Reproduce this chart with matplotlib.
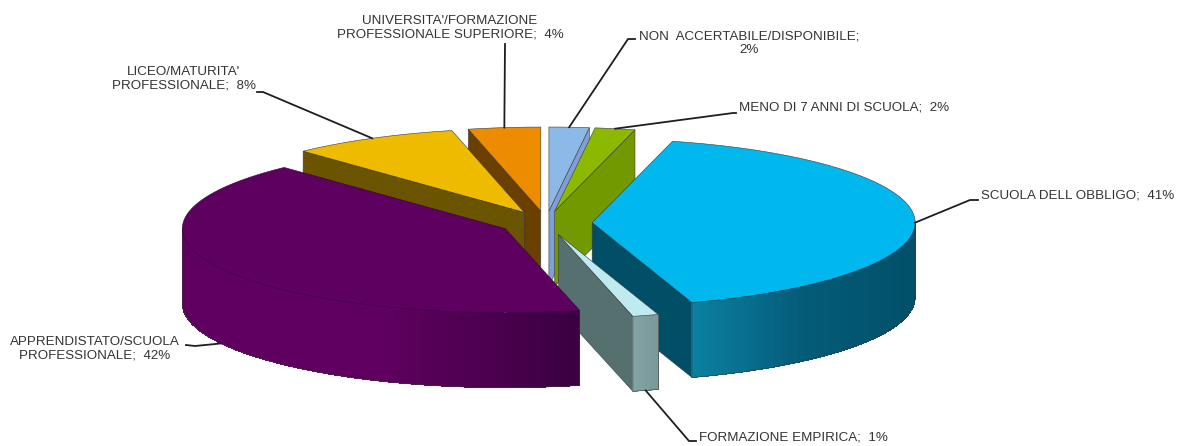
import numpy as np
import matplotlib
matplotlib.use('Agg')
import matplotlib.pyplot as plt
from matplotlib.colors import LinearSegmentedColormap

# clockwise from 12 o'clock
categories = ['NON  ACCERTABILE/DISPONIBILE', 'MENO DI 7 ANNI DI SCUOLA', 'SCUOLA DELL OBBLIGO',
              'FORMAZIONE EMPIRICA', 'APPRENDISTATO/SCUOLA\nPROFESSIONALE', "LICEO/MATURITA'\nPROFESSIONALE",
              "UNIVERSITA'/FORMAZIONE\nPROFESSIONALE SUPERIORE"]
shares = [2.0, 2.0, 41.0, 1.3, 41.7, 8.4, 3.6]
percent_labels = [2, 2, 41, 1, 42, 8, 4]

top_colors = ['#8db9e8', '#8cb900', '#00b8ee', '#bfeaf0', '#5d005f', '#eebb00', '#ee8c00']
face_colors = ['#7f9fd6', '#739900', '#004f66', '#56706f', '#5d005f', '#6b5400', '#6b3f00']
rim_colors = [['#7f9fd6'] * 2, ['#739900'] * 2, ['#0b80a2', '#045b78', '#02506a'], ['#84a3a5', '#7a9799'],
              ['#5f0060', '#5f0060', '#3a0040'], ['#6b5400'] * 2, ['#6b3f00'] * 2]
# back slices first
draw_order = [0, 1, 6, 5, 2, 3, 4]

cx, cy = 546, 223
rx, ry = 323, 84
depth = 75
explode = 0.143
edge = '#3a3a3a'


def apex(mid):
    m = np.radians(mid)
    return cx + explode * rx * np.sin(m), cy - explode * ry * np.cos(m)


def rim(ax0, ay0, ang):
    a = np.radians(ang)
    return ax0 + rx * np.sin(a), ay0 - ry * np.cos(a)


fig = plt.figure(figsize=(11.77, 4.46), dpi=100)
ax = fig.add_axes([0, 0, 1, 1])
ax.set_xlim(0, 1177)
ax.set_ylim(446, 0)
ax.axis('off')

bounds = np.concatenate([[0], np.cumsum(shares)]) * 3.6
mids = (bounds[:-1] + bounds[1:]) / 2

for i in draw_order:
    a0, a1 = bounds[i], bounds[i + 1]
    px, py = apex(mids[i])
    z = draw_order.index(i) + 1

    # cut faces that look towards the viewer
    for ang, show in [(a0, np.sin(np.radians(a0)) < -1e-6), (a1, np.sin(np.radians(a1)) > 1e-6)]:
        if show:
            qx, qy = rim(px, py, ang)
            ax.fill([px, qx, qx, px], [py, qy, qy + depth, py + depth],
                    fc=face_colors[i], ec=edge, lw=0.4, zorder=z)

    # outer wall, drawn in thin strips for the gradient
    lo, hi = max(a0, 90), min(a1, 270)
    if hi > lo:
        angs = np.linspace(lo, hi, 160)
        xs, ys = rim(px, py, angs)
        cmap = LinearSegmentedColormap.from_list('rim', rim_colors[i])
        for k in range(len(angs) - 1):
            t = ((xs[k] + xs[k + 1]) / 2 - xs.min()) / (xs.max() - xs.min())
            ax.fill([xs[k], xs[k + 1], xs[k + 1], xs[k]],
                    [ys[k], ys[k + 1], ys[k + 1] + depth, ys[k] + depth],
                    fc=cmap(t), ec='none', lw=0, antialiased=False, zorder=z)
        ax.plot(np.r_[xs[0], xs, xs[-1]], np.r_[ys[0], ys + depth, ys[-1]],
                color=edge, lw=0.4, zorder=z)

    # top of the slice
    angs = np.linspace(a0, a1, 200)
    xs, ys = rim(px, py, angs)
    ax.fill(np.r_[px, xs], np.r_[py, ys], fc=top_colors[i], ec=edge if i != 4 else '#3a0040',
            lw=0.4, zorder=z + 0.5)

# leader lines, from the slice rim to the label
leader_ang = [mids[0], mids[1], 90, mids[3], mids[4], mids[5], mids[6]]
leader_drop = [0, 0, 0, depth, depth, 0, 0]
elbow_x = [628, 733, 970, 689, 195, 263, 505]
elbow_y = [39, 113, 200, 441, 346, 92, 44]
end_x = [635, 736, 978, 696, 186, 257, 505]
end_y = [39, 113, 200, 441, 345, 92, 44]
for i in range(len(shares)):
    px, py = apex(mids[i])
    sx, sy = rim(px, py, leader_ang[i])
    ax.plot([sx, elbow_x[i], end_x[i]], [sy + leader_drop[i], elbow_y[i], end_y[i]],
            color='#1e1e1e', lw=1.3, zorder=20, solid_joinstyle='round')

# labels
label_x = [749, 739, 981, 699, 95, 184, 450]
label_y = [43, 108, 195, 438, 349, 79, 28]
label_ha = ['center', 'left', 'left', 'left', 'center', 'center', 'center']
for i, name in enumerate(categories):
    sep = '\n' if i == 0 else '  '
    ax.text(label_x[i], label_y[i], f'{name};{sep}{percent_labels[i]}%', ha=label_ha[i], va='center',
            multialignment='center', family='Liberation Sans', fontsize=9.6, color='#333333',
            linespacing=1.12, zorder=21)

fig.savefig('out.png', dpi=100, facecolor='white')
